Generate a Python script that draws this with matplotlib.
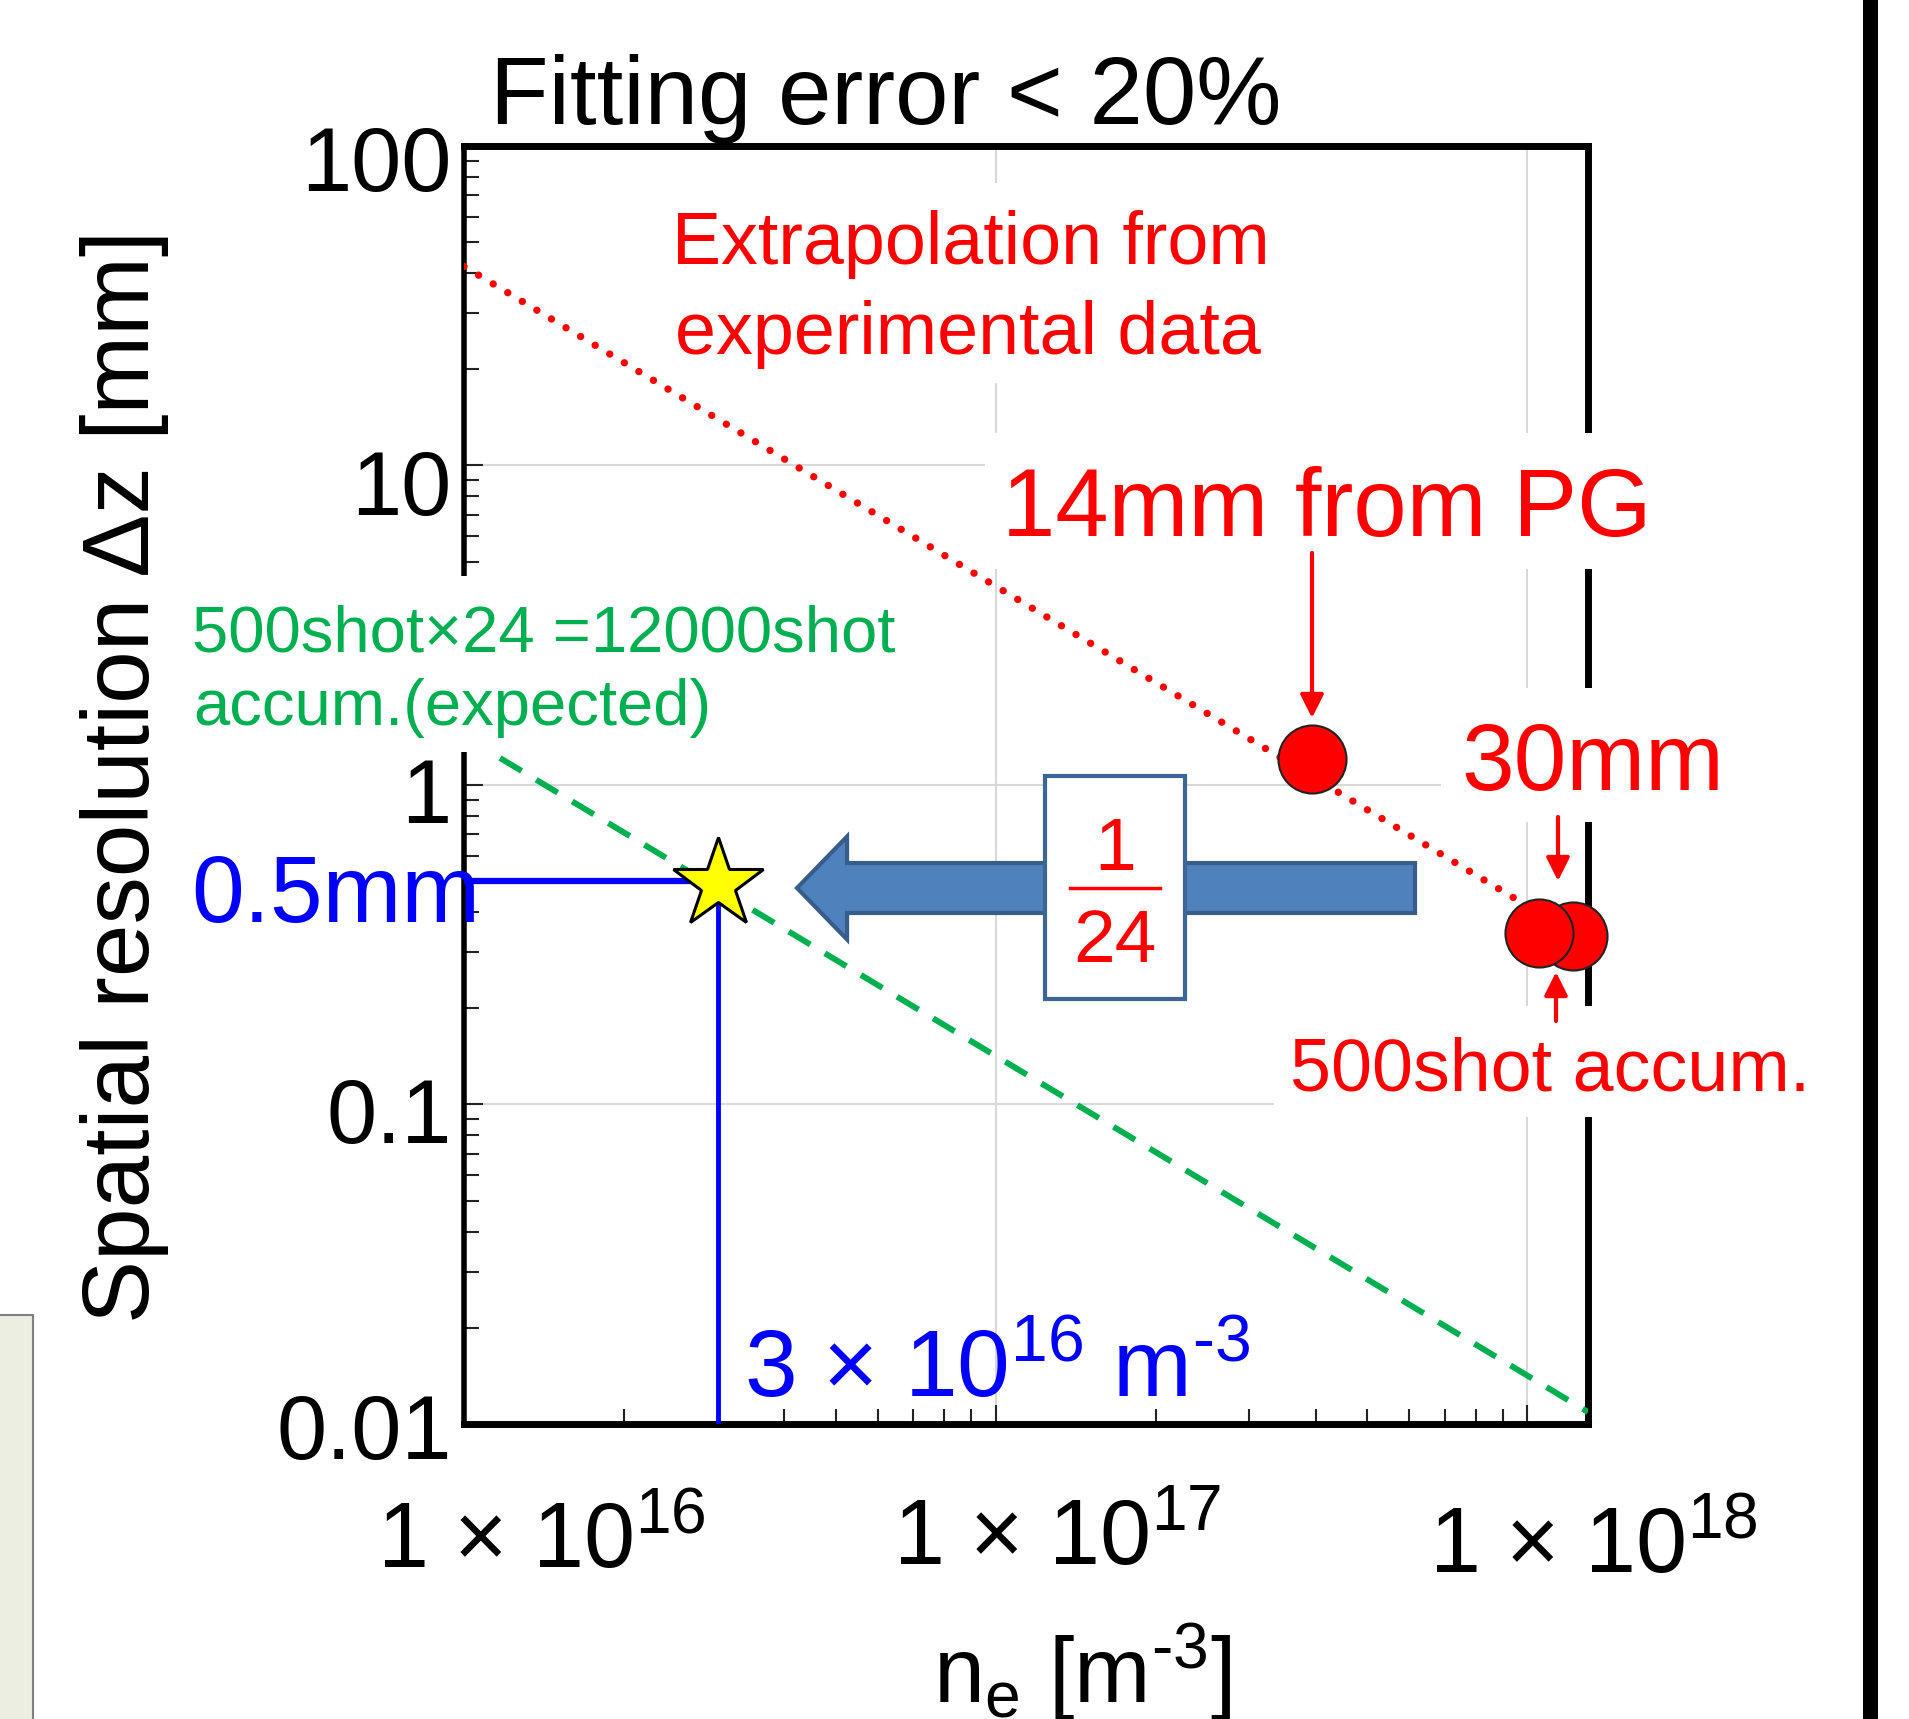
import matplotlib
matplotlib.use("Agg")
import matplotlib.pyplot as plt
from matplotlib.patches import Rectangle, FancyArrow, FancyArrowPatch
from matplotlib.lines import Line2D
from matplotlib.ticker import NullFormatter, LogLocator
from matplotlib.transforms import ScaledTranslation

plt.rcParams['font.family'] = ['Liberation Sans', 'DejaVu Sans']
plt.rcParams['mathtext.fontset'] = 'custom'
plt.rcParams['mathtext.rm'] = 'Liberation Sans'
plt.rcParams['mathtext.it'] = 'Liberation Sans:italic'
plt.rcParams['mathtext.bf'] = 'Liberation Sans:bold'

# --- data ---
extrap_x = [1e16, 9.5e17]          # red dotted: extrapolation from experiment
extrap_y = [42, 0.44]
expected_x = [1e16, 1.3e18]        # green dashed: 12000 shot accumulation
expected_y = [1.42, 0.0109]
pg_x = [3.93e17]                   # 14 mm from PG
pg_y = [1.21]
accum_x = [1.22e18, 1.053e18]      # 30 mm, 500 shot accum. (right one behind)
accum_y = [0.337, 0.344]
target_x = 3e16                    # 3x10^16 m^-3 -> 0.5 mm
target_y = 0.5
star_y = 0.49

x_ticks = [1e16, 1e17, 1e18]
x_ticklabels = ['1 × 10$^{16}$', '1 × 10$^{17}$', '1 × 10$^{18}$']
y_ticks = [0.01, 0.1, 1, 10, 100]
y_ticklabels = ['0.01', '0.1', '1', '10', '100']

RED = '#FF0000'
BLUE = '#0000FF'
GREEN = '#00B050'

W, H = 1909, 1719
def fx(px):
    return px / W
def fy(py):
    return 1 - py / H

fig = plt.figure(figsize=(W / 100, H / 100), dpi=100)
ax = fig.add_axes([fx(464), fy(1424), 1124 / W, 1278 / H])
ax.set_xscale('log')
ax.set_yscale('log')
ax.set_xlim(1e16, 1.3e18)
ax.set_ylim(0.01, 100)

for side in ['top', 'bottom', 'right']:
    ax.spines[side].set_linewidth(5)
ax.spines['left'].set_linewidth(4)

ax.grid(True, which='major', color='#D9D9D9', lw=1.5)
ax.set_xticks(x_ticks)
ax.set_yticks(y_ticks, y_ticklabels)
ax.xaxis.set_minor_locator(LogLocator(base=10, subs=range(2, 10), numticks=20))
ax.yaxis.set_minor_locator(LogLocator(base=10, subs=range(2, 10), numticks=20))
ax.xaxis.set_minor_formatter(NullFormatter())
ax.yaxis.set_minor_formatter(NullFormatter())
ax.tick_params(which='both', direction='in', color='#222222', width=1.5)
ax.tick_params(which='major', length=14)
ax.tick_params(which='minor', length=11)
ax.tick_params(axis='y', labelsize=65, pad=9)
ax.tick_params(axis='x', labelbottom=False)

# y tick labels sit a little low in the original
for lab, dy in zip(ax.get_yticklabels(), [2, 5, 5, 16, 12]):
    lab.set_transform(lab.get_transform() + ScaledTranslation(0, -dy / 100, fig.dpi_scale_trans))

# x tick labels are shifted right/down in the original
for t, lab, dx, dy in zip(x_ticks, x_ticklabels, [-87, -103, -98], [-144, -141, -149]):
    ax.annotate(lab, xy=(t, 0), xycoords=('data', 'axes fraction'),
                xytext=(dx * 0.72, dy * 0.72), textcoords='offset points',
                ha='left', va='baseline', fontsize=66, annotation_clip=False)

ax.set_ylabel('Spatial resolution Δz [mm]', fontsize=68)
ax.yaxis.set_label_coords(-0.2802, 0.507)
ax.yaxis.label.set_va('baseline')
ax.set_xlabel(r'n$_{\mathrm{e}}$ [m$^{\text{-3}}$]', fontsize=66)
ax.xaxis.set_label_coords(0.5498, -0.2183)
ax.xaxis.label.set_va('baseline')

# lines and points
ax.plot(expected_x, expected_y, color=GREEN, lw=4.3, ls=(0, (4.2, 2.85)), zorder=3)
ax.plot(extrap_x, extrap_y, color=RED, lw=5.3, ls=(0, (0.01, 2.3)),
        dash_capstyle='round', zorder=4)
ax.plot([expected_x[0], target_x], [target_y, target_y], color=BLUE, lw=4.5, zorder=4)
ax.plot([target_x, target_x], [target_y, 0.01], color=BLUE, lw=3.5, zorder=4)
ax.plot(pg_x, pg_y, 'o', ms=49, mfc=RED, mec='#222222', mew=1.5, zorder=5, clip_on=False)
ax.plot(accum_x, accum_y, 'o', ms=49, mfc=RED, mec='#222222', mew=1.5, zorder=5, clip_on=False)
ax.plot([target_x], [star_y], marker='*', ms=68, mfc='#FFFF00', mec='black', mew=2.2,
        zorder=6, clip_on=False)

# white text boxes of the slide (they hide spines and grid)
def mask(x0, y0, x1, y1):
    fig.add_artist(Rectangle((fx(x0), fy(y1)), fx(x1) - fx(x0), fy(y0) - fy(y1),
                             transform=fig.transFigure, fc='white', ec='none', zorder=1))

mask(665, 183, 1295, 383)    # Extrapolation from ...
mask(985, 433, 1665, 569)    # 14mm from PG
mask(1441, 688, 1740, 822)   # 30mm
mask(1274, 1006, 1830, 1117) # 500shot accum.
mask(185, 576, 925, 752)     # green text

# slide decorations
fig.add_artist(Rectangle((fx(1863), 0), 15 / W, 1, transform=fig.transFigure,
                         fc='black', ec='none', zorder=1))
fig.add_artist(Rectangle((fx(-3), fy(1725)), 36 / W, 410 / H, transform=fig.transFigure,
                         fc='#ECEEE1', ec='#808080', lw=1.5, zorder=1))

# big blue arrow with 1/24 box
ax.add_patch(FancyArrow(0.8461, 0.4194, -0.5498, 0, width=0.0391, head_width=0.0806,
                        head_length=0.0445, length_includes_head=True,
                        transform=ax.transAxes, fc='#4F81BD', ec='#385D8A', lw=3,
                        zorder=7, clip_on=False))
fig.add_artist(Rectangle((fx(1045), fy(999)), 140 / W, 223 / H, transform=fig.transFigure,
                         fc='white', ec='#3B6696', lw=3, zorder=2))
fig.text(fx(1115), fy(870), '1', color=RED, fontsize=54, ha='center', va='baseline', zorder=3)
fig.text(fx(1115), fy(962), '24', color=RED, fontsize=54, ha='center', va='baseline', zorder=3)
fig.add_artist(Line2D([fx(1070), fx(1160)], [fy(888), fy(888)], color=RED, lw=2.5,
                      transform=fig.transFigure, zorder=3))

# small red arrows
def red_arrow(x0, y0, x1, y1):
    fig.add_artist(FancyArrowPatch((fx(x0), fy(y0)), (fx(x1), fy(y1)),
                                   transform=fig.transFigure, arrowstyle='-|>,head_length=1,head_width=0.5',
                                   mutation_scale=14, color=RED, lw=3, shrinkA=0, shrinkB=0, zorder=3))

red_arrow(1312, 553, 1312, 718)
red_arrow(1558, 817, 1558, 881)
red_arrow(1556, 1021, 1556, 972)

# texts
fig.text(fx(490), fy(124), 'Fitting error < 20%', fontsize=69, ha='left', va='baseline')
fig.text(fx(672), fy(264), 'Extrapolation from', color=RED, fontsize=53, ha='left', va='baseline')
fig.text(fx(675), fy(354), 'experimental data', color=RED, fontsize=53, ha='left', va='baseline')
fig.text(fx(1002), fy(536), '14mm from PG', color=RED, fontsize=69, ha='left', va='baseline')
fig.text(fx(1461), fy(790), '30mm', color=RED, fontsize=68, ha='left', va='baseline')
fig.text(fx(1290), fy(1090), '500shot accum.', color=RED, fontsize=53, ha='left', va='baseline')
fig.text(fx(192), fy(651), '500shot×24 =12000shot', color=GREEN, fontsize=47, ha='left', va='baseline')
fig.text(fx(193), fy(725), 'accum.(expected)', color=GREEN, fontsize=47, ha='left', va='baseline')
fig.text(fx(191), fy(922), '0.5mm', color=BLUE, fontsize=68, ha='left', va='baseline', zorder=3)
fig.text(fx(744), fy(1397), r'3 × 10$^{16}$ m$^{\text{-3}}$', color=BLUE, fontsize=68,
         ha='left', va='baseline')

fig.savefig('out.png', dpi=100)
